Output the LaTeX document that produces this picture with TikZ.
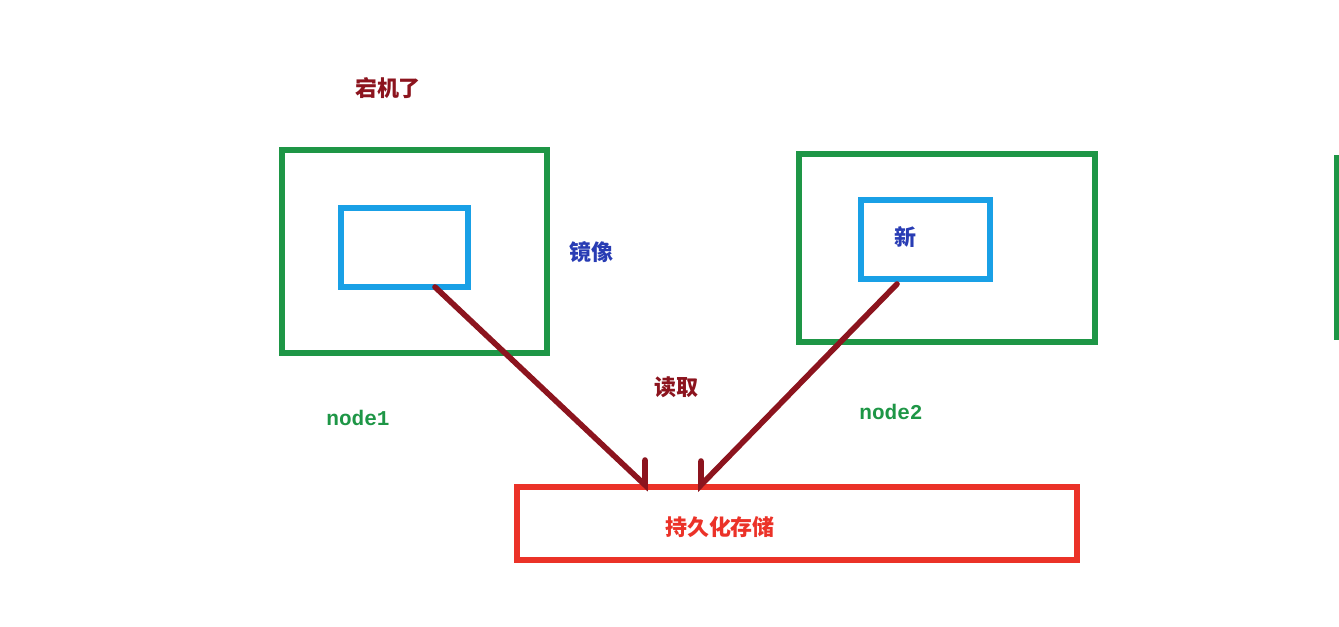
\documentclass[tikz,border=0pt]{standalone}
\usepackage{fontspec}
\newfontfamily\cjk{Noto Sans CJK SC}
\newfontfamily\mono{Liberation Mono}
\begin{document}
\begin{tikzpicture}[x=0.02cm,y=-0.02cm,
  gbox/.style={draw=boxgreen,line width=3.2pt},
  bbox/.style={draw=boxblue,line width=3.2pt},
  rbox/.style={draw=boxred,line width=3.2pt},
  arr/.style={draw=arrred,line width=3.2pt,line cap=round},
  lbl/.style={font=\cjk\bfseries\fontsize{12.5}{14}\selectfont,inner sep=0pt},
  mlbl/.style={font=\mono\bfseries\fontsize{12}{14}\selectfont,text=boxgreen,inner sep=0pt}]
\definecolor{boxgreen}{RGB}{30,150,70}
\definecolor{boxblue}{RGB}{25,160,230}
\definecolor{boxred}{RGB}{235,50,40}
\definecolor{arrred}{RGB}{140,20,30}
\definecolor{txtblue}{RGB}{40,60,180}
\useasboundingbox (0,0) rectangle (1339,626);
\draw[gbox] (282,150) rectangle (547,353);
\draw[bbox] (341,208) rectangle (468,287);
\draw[gbox] (799,154) rectangle (1095,342);
\draw[bbox] (861,200) rectangle (990,279);
\draw[rbox] (517,487) rectangle (1077,560);
\draw[boxgreen,line width=3.2pt] (1337,155) -- (1337,340);
\coordinate (a1) at (435,287);
\coordinate (a1e) at (645,485);
\coordinate (a1h) at (645,460);
\coordinate (a2) at (897,284);
\coordinate (a2e) at (701,485);
\coordinate (a2h) at (701,461);
\draw[arr] (a1) -- (a1e) -- (a1h);
\draw[arr] (a2) -- (a2e) -- (a2h);
\node[lbl,text=arrred] (t1) at (388,88) {宕机了};
\node[lbl,text=txtblue] (t2) at (591,252) {镜像};
\node[lbl,text=txtblue] (t3) at (905,237) {新};
\node[lbl,text=arrred] (t4) at (676,387) {读取};
\node[lbl,text=boxred] (t5) at (720,527) {持久化存储};
\node[mlbl] (n1) at (358,418) {node1};
\node[mlbl] (n2) at (891,412) {node2};
\end{tikzpicture}
\end{document}
